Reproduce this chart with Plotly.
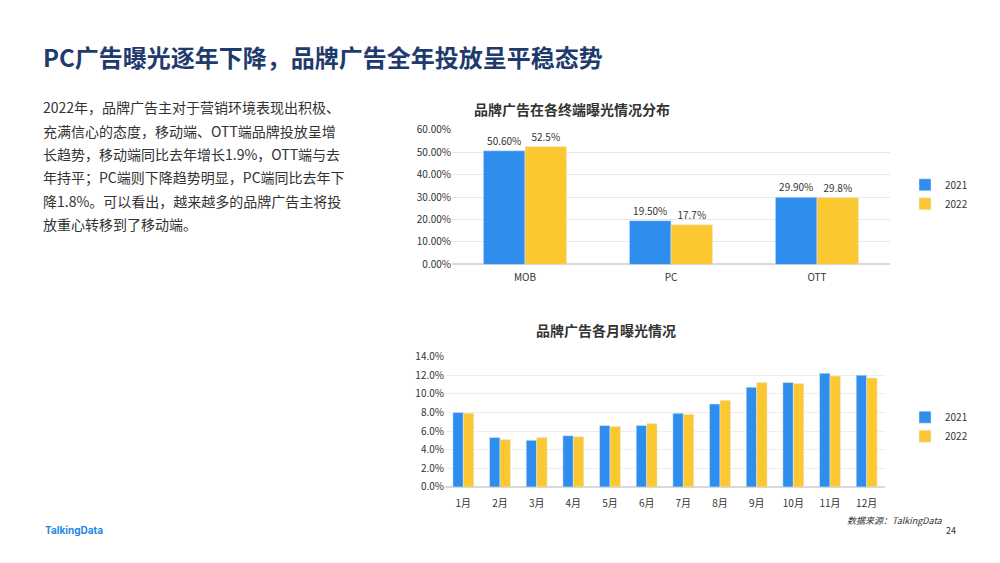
import plotly.graph_objects as go

cats1 = ["MOB", "PC", "OTT"]
v1_2021 = [50.6, 19.5, 29.9]
v1_2022 = [52.5, 17.7, 29.8]
lab1_2021 = ["50.60%", "19.50%", "29.90%"]
lab1_2022 = ["52.5%", "17.7%", "29.8%"]

months = ["1月","2月","3月","4月","5月","6月","7月","8月","9月","10月","11月","12月"]
m2021 = [8.0,5.3,5.0,5.5,6.6,6.6,7.9,8.9,10.7,11.2,12.2,12.0]
m2022 = [7.9,5.1,5.3,5.4,6.5,6.8,7.8,9.3,11.2,11.1,11.9,11.7]

BLUE = "#2f8ded"
YEL = "#fbc831"
F = "Noto Sans CJK SC"

fig = go.Figure()
fig.add_bar(x=cats1, y=v1_2021, name="2021", marker_color=BLUE, text=lab1_2021,
            textposition="outside", textfont=dict(size=10, color="#333"), cliponaxis=False,
            xaxis="x", yaxis="y", legend="legend")
fig.add_bar(x=cats1, y=v1_2022, name="2022", marker_color=YEL, text=lab1_2022,
            textposition="outside", textfont=dict(size=10, color="#333"), cliponaxis=False,
            xaxis="x", yaxis="y", legend="legend")
fig.add_bar(x=months, y=m2021, name="2021", marker_color=BLUE, xaxis="x2", yaxis="y2", legend="legend2")
fig.add_bar(x=months, y=m2022, name="2022", marker_color=YEL, xaxis="x2", yaxis="y2", legend="legend2")

ax = dict(showline=False, ticks="", tickfont=dict(size=10, color="#333"), fixedrange=True)
fig.update_layout(
    autosize=True, margin=dict(l=0, r=0, t=0, b=0),
    paper_bgcolor="white", plot_bgcolor="white", font=dict(family=F, color="#333"),
    barmode="group", bargap=0.43, bargroupgap=0,
    xaxis=dict(domain=[0.452, 0.89], anchor="y", ticklabelstandoff=6, **ax),
    yaxis=dict(domain=[0.532, 0.778], anchor="x", range=[0, 60], dtick=10, ticksuffix=".00%",
               gridcolor="#e8e8e8", zeroline=True, zerolinecolor="#d9d9d9", **ax),
    xaxis2=dict(domain=[0.445, 0.885], anchor="y2", ticklabelstandoff=9, **ax),
    yaxis2=dict(domain=[0.126, 0.364], anchor="x2", range=[0, 14], dtick=2, tickformat=".1f", ticksuffix="%",
                gridcolor="#eeeeee", zeroline=True, zerolinecolor="#d9d9d9", **ax),
    legend=dict(x=0.905, y=0.66, xanchor="left", yanchor="middle", font=dict(size=10), itemwidth=30,
                bgcolor="rgba(0,0,0,0)"),
    legend2=dict(x=0.905, y=0.236, xanchor="left", yanchor="middle", font=dict(size=10), itemwidth=30,
                 bgcolor="rgba(0,0,0,0)"),
)

ann = []
ann.append(dict(x=0.041, y=1 - 50 / 563, xref="paper", yref="paper", xanchor="left", yanchor="middle",
                text="<b>PC广告曝光逐年下降，品牌广告全年投放呈平稳态势</b>", showarrow=False,
                font=dict(size=24, color="#1f3b6e", family=F)))
body = ["2022年，品牌广告主对于营销环境表现出积极、",
        "充满信心的态度，移动端、OTT端品牌投放呈增",
        "长趋势，移动端同比去年增长1.9%，OTT端与去",
        "年持平；PC端则下降趋势明显，PC端同比去年下",
        "降1.8%。可以看出，越来越多的品牌广告主将投",
        "放重心转移到了移动端。"]
for i, t in enumerate(body):
    ann.append(dict(x=0.041, y=1 - (102 + 24 * i) / 563, xref="paper", yref="paper", xanchor="left",
                    yanchor="middle", text=t, showarrow=False, font=dict(size=14, color="#333", family=F)))
ann.append(dict(x=0.672, y=1 - 104 / 563, xref="paper", yref="paper", yanchor="middle",
                text="<b>品牌广告在各终端曝光情况分布</b>",
                showarrow=False, font=dict(size=14, color="#333")))
ann.append(dict(x=0.678, y=1 - 331 / 563, xref="paper", yref="paper", yanchor="middle",
                text="<b>品牌广告各月曝光情况</b>",
                showarrow=False, font=dict(size=14, color="#333")))
ann.append(dict(x=0.945, y=1 - 527 / 563, xref="paper", yref="paper", xanchor="right", yanchor="middle",
                text="<i>数据来源：TalkingData</i>", showarrow=False, font=dict(size=9, color="#333")))
ann.append(dict(x=0.958, y=1 - 537 / 563, xref="paper", yref="paper", xanchor="right", yanchor="middle",
                text="24", showarrow=False, font=dict(size=9, color="#333")))
ann.append(dict(x=0.043, y=1 - 537 / 563, xref="paper", yref="paper", xanchor="left", yanchor="middle",
                text="<b>TalkingData</b>", showarrow=False, font=dict(size=10, color="#1e88e5", family="Inter")))
fig.update_layout(annotations=ann)
fig.write_html("out.html", default_width="100vw", default_height="100vh",
               config={"responsive": True, "displayModeBar": False},
               post_script="document.body.style.margin='0';document.body.style.overflow='hidden';"
                           "Plotly.Plots.resize(document.getElementById('{plot_id}'));")
